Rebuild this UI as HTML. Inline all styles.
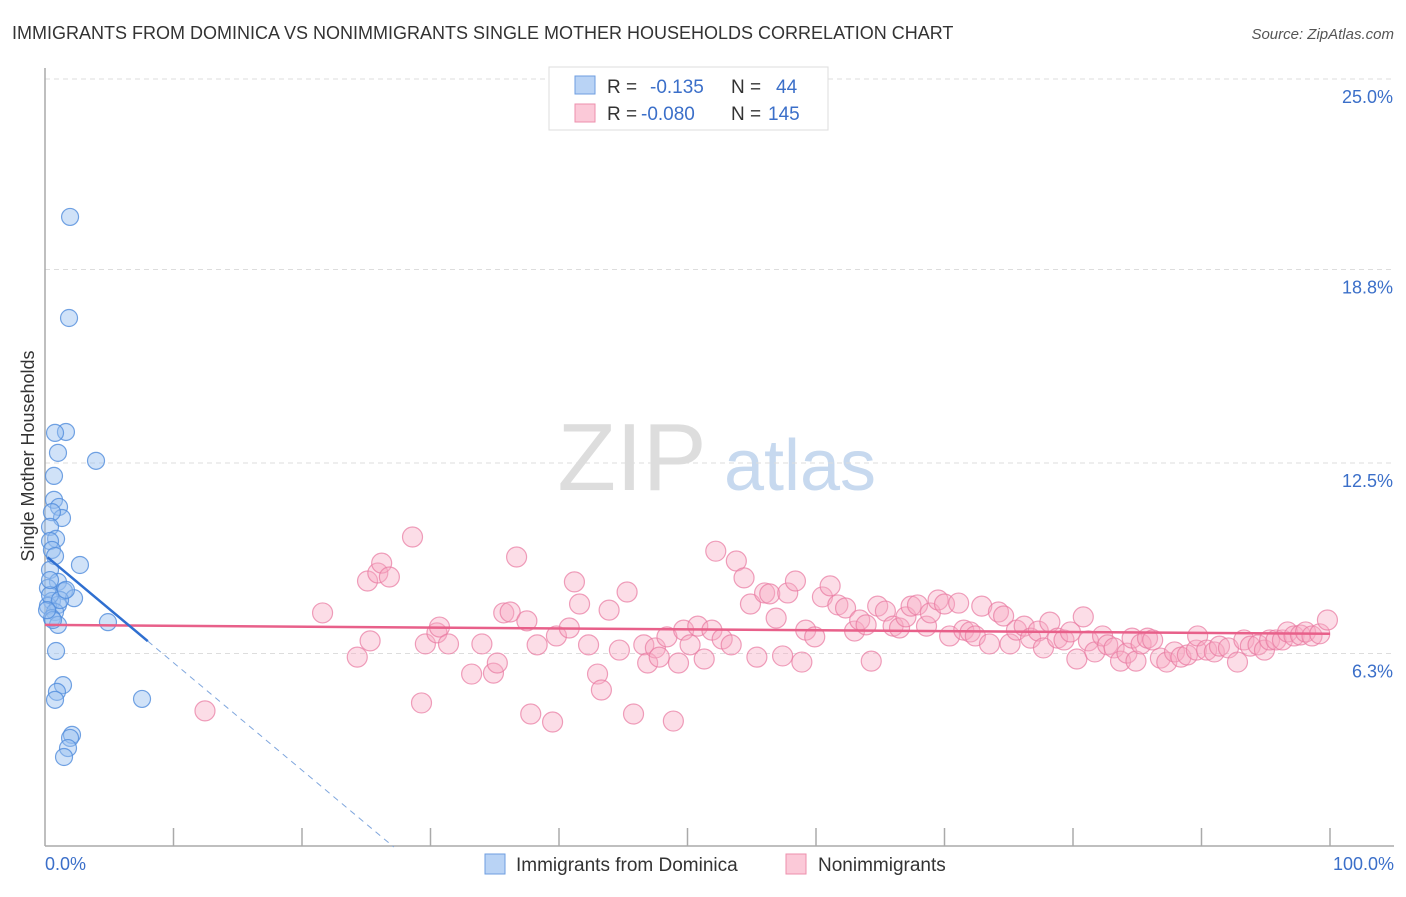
<!DOCTYPE html>
<html><head><meta charset="utf-8"><style>
body{margin:0;background:#fff;font-family:"Liberation Sans",sans-serif;}
svg text{font-family:"Liberation Sans",sans-serif;}
</style></head><body>
<svg id="chart" width="1406" height="892" xmlns="http://www.w3.org/2000/svg">
<text x="12" y="39" font-size="18" fill="#333">IMMIGRANTS FROM DOMINICA VS NONIMMIGRANTS SINGLE MOTHER HOUSEHOLDS CORRELATION CHART</text>
<text x="1394" y="39" font-size="15" fill="#555" font-style="italic" text-anchor="end">Source: ZipAtlas.com</text>
<g>
<text x="632" y="490" font-size="96" fill="#ddd" font-family="Liberation Serif,serif" text-anchor="middle">ZIP</text>
<text x="800" y="490" font-size="72" fill="#c7d9ef" text-anchor="middle">atlas</text>
</g>
<g id="grid"></g>
<g id="axes"></g>
<g id="pinkPts"></g>
<g id="bluePts"></g>
<g id="lines"></g>
<text transform="translate(34,456) rotate(-90)" font-size="18" fill="#333" text-anchor="middle">Single Mother Households</text>
<text x="45" y="870" font-size="18" fill="#3b6fc9">0.0%</text>
<text x="1394" y="870" font-size="18" fill="#3b6fc9" text-anchor="end">100.0%</text>
<g>
<rect x="549" y="67" width="279" height="63" fill="#fff" stroke="#ddd"/>
<rect x="575" y="76" width="20" height="18" fill="#b9d3f5" stroke="#6e9ee0"/>
<rect x="575" y="104" width="20" height="18" fill="#fbc9d8" stroke="#ee8fac"/>
<text x="607" y="93" font-size="19" fill="#333">R = <tspan fill="#3b6fc9" x="650">-0.135</tspan><tspan fill="#333" x="731">N = </tspan><tspan fill="#3b6fc9" x="776">44</tspan></text>
<text x="607" y="120" font-size="19" fill="#333">R = <tspan fill="#3b6fc9" x="641">-0.080</tspan><tspan fill="#333" x="731">N = </tspan><tspan fill="#3b6fc9" x="768">145</tspan></text>
</g>
<g>
<rect x="485" y="854" width="20" height="20" fill="#b9d3f5" stroke="#6e9ee0"/>
<text x="516" y="871" font-size="19" fill="#333">Immigrants from Dominica</text>
<rect x="786" y="854" width="20" height="20" fill="#fbc9d8" stroke="#ee8fac"/>
<text x="818" y="871" font-size="19" fill="#333">Nonimmigrants</text>
</g>
</svg>
<script>
const yTicks=[6.3,12.5,18.8,25.0];
const yTickLabels=["6.3%","12.5%","18.8%","25.0%"];
const blueX=[1.95,1.87,1.63,0.78,3.97,1.01,0.70,0.70,1.09,1.32,0.54,0.39,0.86,0.39,0.54,0.78,2.72,0.39,1.01,1.48,0.23,2.26,0.54,1.01,0.23,0.78,0.54,1.01,4.90,0.86,1.40,0.93,0.78,7.55,2.10,1.95,1.79,1.48,0.39,0.39,0.62,1.17,0.16,1.63];
const blueY=[20.51,17.22,13.51,13.48,12.57,12.83,12.08,11.30,11.07,10.71,10.90,10.42,10.03,9.96,9.67,9.47,9.18,9.02,8.63,8.33,8.43,8.10,8.01,7.88,7.85,7.65,7.45,7.23,7.32,6.38,5.27,5.05,4.79,4.82,3.65,3.55,3.22,2.93,8.20,8.69,7.39,8.04,7.71,8.37];
const pinkX=[12.45,21.6,24.3,25.3,25.1,25.9,26.2,26.8,28.6,29.3,29.6,30.5,30.7,31.4,33.2,34.0,34.9,35.2,35.7,36.2,36.7,37.5,37.8,38.3,39.5,39.8,40.8,41.2,41.6,42.3,43.0,43.3,43.9,44.7,45.3,45.8,46.6,46.9,47.5,47.8,48.4,48.9,49.3,49.7,50.2,50.8,51.3,51.9,52.2,52.7,53.4,53.8,54.4,54.9,55.4,56.0,56.4,56.9,57.4,57.8,58.4,58.9,59.2,59.9,60.5,61.1,61.7,62.3,63.0,63.4,63.9,64.3,64.8,65.4,66.0,66.5,67.0,67.4,67.9,68.6,68.9,69.5,70.0,70.4,71.1,71.5,72.0,72.4,72.9,73.5,74.2,74.6,75.1,75.6,76.2,76.7,77.3,77.7,78.2,78.8,79.3,79.8,80.3,80.8,81.2,81.7,82.3,82.7,83.2,83.7,84.2,84.6,84.9,85.3,85.8,86.2,86.8,87.3,87.9,88.4,88.9,89.6,89.7,90.4,91.0,91.4,92.1,92.8,93.3,93.8,94.4,94.9,95.3,95.8,96.3,96.7,97.2,97.7,98.1,98.6,99.2,99.8];
const pinkY=[4.43,7.62,6.18,6.71,8.66,8.92,9.24,8.79,10.09,4.69,6.61,6.97,7.16,6.61,5.63,6.61,5.66,5.99,7.62,7.65,9.44,7.36,4.33,6.58,4.07,6.87,7.13,8.63,7.91,6.58,5.63,5.11,7.71,6.41,8.30,4.33,6.58,5.99,6.48,6.18,6.84,4.10,5.99,7.06,6.58,7.19,6.12,7.06,9.63,6.77,6.58,9.31,8.76,7.91,6.18,8.27,8.24,7.45,6.22,8.27,8.66,6.02,7.06,6.84,8.14,8.50,7.88,7.78,7.03,7.39,7.23,6.05,7.84,7.68,7.19,7.13,7.49,7.84,7.88,7.19,7.62,8.04,7.91,6.87,7.94,7.06,7.00,6.87,7.84,6.61,7.65,7.52,6.61,7.06,7.19,6.80,7.03,6.48,7.32,6.80,6.74,7.00,6.12,7.49,6.71,6.35,6.87,6.58,6.48,6.05,6.31,6.80,6.05,6.61,6.80,6.74,6.15,6.02,6.35,6.18,6.25,6.41,6.87,6.41,6.35,6.54,6.48,6.02,6.74,6.54,6.58,6.41,6.74,6.74,6.74,7.00,6.87,6.90,7.00,6.87,6.94,7.39];
const blueTrend=[9.5,-0.35];
const pinkTrend=[7.23,-0.0029];
const NS="http://www.w3.org/2000/svg";
const X=v=>45+v*12.85, Y=v=>847-v*30.72;
function mk(tag,parent,attrs){const e=document.createElementNS(NS,tag);for(const k in attrs)e.setAttribute(k,attrs[k]);document.getElementById(parent).appendChild(e);return e;}
yTicks.forEach((t,i)=>{
 const l=mk('line','grid',{x1:45,x2:1394,y1:Y(t),y2:Y(t),stroke:'#ddd','stroke-dasharray':'5,4'});
 
 
 const tx=mk('text','grid',{x:1393,y:Y(t)+24,'font-size':18,fill:'#3b6fc9','text-anchor':'end'});
 tx.textContent=yTickLabels[i];
 
 
});
const ya=mk('line','axes',{x1:45,x2:45,y1:68,y2:846,stroke:'#aaa','stroke-width':1.5});


const xa=mk('line','axes',{x1:45,x2:1394,y1:846,y2:846,stroke:'#aaa','stroke-width':1.5});


for(let i=1;i<=10;i++){const t=mk('line','axes',{x1:X(i*10),x2:X(i*10),y1:828,y2:846,stroke:'#aaa','stroke-width':1.5});
 
 }
pinkX.forEach((x,i)=>{const c=mk('circle','pinkPts',{cx:X(x),cy:Y(pinkY[i]),r:10,fill:'rgba(248,170,195,0.4)',stroke:'rgba(232,120,160,0.7)','stroke-width':1.2});
 
 });
blueX.forEach((x,i)=>{const c=mk('circle','bluePts',{cx:X(x),cy:Y(blueY[i]),r:8.5,fill:'rgba(150,190,240,0.45)',stroke:'rgba(80,140,220,0.8)','stroke-width':1.2});
 
 });
const pl=mk('line','lines',{x1:X(0),x2:X(100),y1:Y(pinkTrend[0]),y2:Y(pinkTrend[0]+pinkTrend[1]*100),stroke:'#e8608a','stroke-width':2.5});


const bx1=8, bx2=-blueTrend[0]/blueTrend[1];
const bl=mk('line','lines',{x1:X(0.2),x2:X(bx1),y1:Y(blueTrend[0]+blueTrend[1]*0.2),y2:Y(blueTrend[0]+blueTrend[1]*bx1),stroke:'#2f6fd0','stroke-width':2.5});


const bd=mk('line','lines',{x1:X(bx1),x2:X(bx2),y1:Y(blueTrend[0]+blueTrend[1]*bx1),y2:Y(0),stroke:'#7fa6dd','stroke-width':1,'stroke-dasharray':'6,5'});


</script>
</body></html>
